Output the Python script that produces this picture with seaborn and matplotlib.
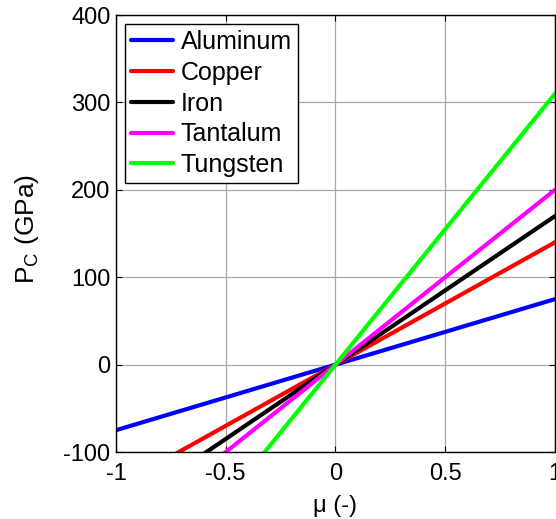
import numpy as np
import pandas as pd
import matplotlib
matplotlib.use("Agg")
import matplotlib.pyplot as plt
import seaborn as sns

# Data (P_C vs mu, straight lines through origin)
materials = ['Aluminum', 'Copper', 'Iron', 'Tantalum', 'Tungsten']
mu = [-1.0, 0.0, 1.0]
p_aluminum = [-75, 0, 75]
p_copper = [-140, 0, 140]
p_iron = [-170, 0, 170]
p_tantalum = [-200, 0, 200]
p_tungsten = [-310, 0, 310]
colors = ['#0000ff', '#ff0000', '#000000', '#ff00ff', '#00ff00']

sns.set_style("ticks")
plt.rcParams['font.family'] = ['Liberation Sans', 'DejaVu Sans']
plt.rcParams['mathtext.fontset'] = 'custom'
plt.rcParams['mathtext.rm'] = 'Liberation Sans'
plt.rcParams['axes.unicode_minus'] = False
plt.rcParams['text.color'] = 'black'
plt.rcParams['axes.labelcolor'] = 'black'
plt.rcParams['xtick.color'] = 'black'
plt.rcParams['ytick.color'] = 'black'

rows = []
for name, vals in zip(materials, [p_aluminum, p_copper, p_iron, p_tantalum, p_tungsten]):
    for m, p in zip(mu, vals):
        rows.append({'mu': m, 'P': p, 'material': name})
df = pd.DataFrame(rows)

fig = plt.figure(figsize=(5.56, 5.19), dpi=100)
ax = fig.add_axes([0.2086, 0.129, 0.7896, 0.842])

sns.lineplot(data=df, x='mu', y='P', hue='material', hue_order=materials,
             palette=colors, linewidth=3, ax=ax, sort=False)

ax.set_xlim(-1, 1)
ax.set_ylim(-100, 400)
ax.set_xticks([-1, -0.5, 0, 0.5, 1])
ax.set_xticklabels(['-1', '-0.5', '0', '0.5', '1'])
ax.set_yticks([-100, 0, 100, 200, 300, 400])
ax.grid(True, color='#a8a8a8', linewidth=0.9, linestyle='-')
ax.tick_params(direction='in', length=4, width=0.8, labelsize=17,
               top=True, right=True)
ax.tick_params(axis='x', pad=8)
ax.tick_params(axis='y', pad=4)
for s in ax.spines.values():
    s.set_linewidth(1.0)
    s.set_color('black')

ax.set_xlabel('\u03bc (-)', fontsize=17)
ax.set_ylabel(r'P$_\mathregular{C}$ (GPa)', fontsize=19)
ax.xaxis.set_label_coords(0.5, -0.098)
ax.yaxis.set_label_coords(-0.17, 0.51)

leg = ax.legend(loc='upper left', fontsize=18, frameon=True, fancybox=False,
                edgecolor='black', framealpha=1, handlelength=1.7,
                handletextpad=0.3, labelspacing=0.27, borderpad=0.25,
                borderaxespad=0.35)
leg.get_frame().set_linewidth(1.0)
for line in leg.get_lines():
    line.set_linewidth(3)

plt.savefig('out.png', dpi=100)
